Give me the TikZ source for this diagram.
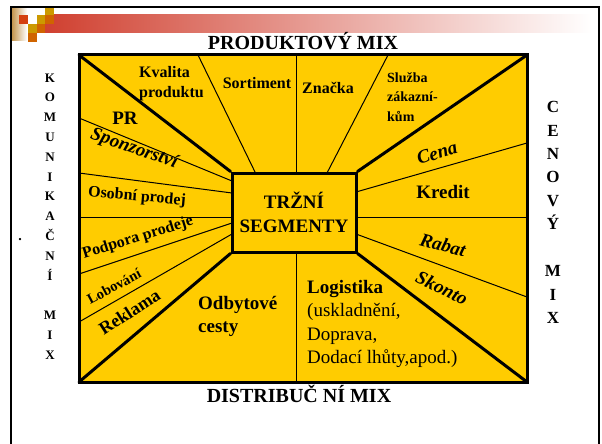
\documentclass[tikz,border=0pt]{standalone}
\usepackage{fontspec}
\setmainfont{Liberation Serif}
\definecolor{slideyellow}{RGB}{255,204,0}
\definecolor{sqred}{RGB}{212,64,16}
\definecolor{sqgold}{RGB}{204,153,0}
\definecolor{sqorange}{RGB}{208,100,0}
\definecolor{barred}{RGB}{208,64,48}
\definecolor{striptan}{RGB}{196,150,80}
\newcommand{\fsz}[2]{\fontsize{#1}{#2}\selectfont}
\begin{document}
\begin{tikzpicture}[x=1pt,y=-1pt,
  thinl/.style={line width=1pt,black},
  thickl/.style={line width=3pt,black,line cap=round},
  lab/.style={inner sep=0pt,font=\bfseries\fsz{19}{23}},
  labsm/.style={inner sep=0pt,font=\bfseries\fsz{16}{19.4}},
  labit/.style={inner sep=0pt,font=\bfseries\itshape\fsz{19}{23}},
  logl/.style={inner sep=0pt,anchor=base west,font=\fsz{19}{23}}
]
\useasboundingbox (0,0) rectangle (602,444);
\fill[white] (0,0) rectangle (602,444);
% header decoration
\shade[left color=striptan,right color=white] (12,9) rectangle (27,41);
\shade[left color=barred,right color=white] (45,15) rectangle (592,33);
\fill[sqred] (19,15) rectangle (28,24);
\fill[sqgold] (28,24) rectangle (36.5,33);
\fill[sqorange] (28,33) rectangle (36.5,42);
\fill[sqgold] (36.5,15) rectangle (45,24);
\fill[sqorange] (36.5,24) rectangle (45,33);
\fill[sqgold] (45,8) rectangle (54,15);
\fill[sqorange] (45,15) rectangle (54,24);
% outer frame
\draw[line width=2.5pt] (11,446) -- (11,7) -- (599,7) -- (599,446);

% yellow field
\coordinate (YA) at (79,55);
\coordinate (YB) at (527,55);
\coordinate (YC) at (527,382);
\coordinate (YD) at (79,382);
\fill[slideyellow] (YA) rectangle (YC);

% thin separators
\coordinate (t1a) at (198,55);   \coordinate (t1b) at (255.5,173);
\coordinate (t2a) at (296,55);   \coordinate (t2b) at (296,173);
\coordinate (t3a) at (388,55);   \coordinate (t3b) at (327,173);
\coordinate (l1a) at (79,118);   \coordinate (l1b) at (232,181);
\coordinate (l2a) at (79,173);   \coordinate (l2b) at (232,193);
\coordinate (l3a) at (79,217);   \coordinate (l3b) at (232,217);
\coordinate (l4a) at (79,274);   \coordinate (l4b) at (232,223);
\coordinate (l5a) at (79,322);   \coordinate (l5b) at (232,234);
\coordinate (r1a) at (527,143);  \coordinate (r1b) at (356,192);
\coordinate (r2a) at (527,217);  \coordinate (r2b) at (356,217);
\coordinate (r3a) at (527,297);  \coordinate (r3b) at (356,234);
\coordinate (b1a) at (296,382);  \coordinate (b1b) at (296,252);
\foreach \p in {t1,t2,t3,l1,l2,l3,l4,l5,r1,r2,r3,b1}
  \draw[thinl] (\p a) -- (\p b);

% central box
\node[draw,line width=3pt,fill=slideyellow,minimum width=124pt,minimum height=79pt,
      inner sep=0pt,align=center,font=\bfseries\fsz{19}{24}] (seg) at (294,212.5)
      {TRŽNÍ\\SEGMENTY};
\draw[thickl] (YA) -- (seg.north west);
\draw[thickl] (YB) -- (seg.north east);
\draw[thickl] (YD) -- (seg.south west);
\draw[thickl] (YC) -- (seg.south east);
\draw[line width=3pt] (YA) rectangle (YC);

% titles
\node[lab,font=\bfseries\fsz{20}{24}] (prod) at (303,41) {PRODUKTOVÝ MIX};
\node[lab,font=\bfseries\fsz{20}{24}] (dist) at (299,394) {DISTRIBUČ NÍ MIX};
\node[lab,font=\bfseries\fsz{13}{19.8},align=center] (kom) at (50,216.5)
  {K\\O\\M\\U\\N\\I\\K\\A\\Č\\N\\Í\\\mbox{}\\M\\I\\X};
\node[lab,font=\bfseries\fsz{17}{23.45},align=center] (cen) at (553,212.5)
  {C\\E\\N\\O\\V\\Ý\\\mbox{}\\M\\I\\X};
\node[lab,font=\bfseries\fsz{14}{14}] (dot) at (20,240) {.};

% top sector
\node[labsm,align=left,anchor=west] (kval) at (139,83.5) {Kvalita\\produktu};
\node[labsm] (sort) at (257,83) {Sortiment};
\node[labsm] (zn) at (328,88) {Značka};
\node[labsm,font=\bfseries\fsz{14}{19.5},align=left,anchor=west] (sluz) at (387,96.7)
  {Služba\\zákazní-\\kům};

% left sector
\node[lab] (pr) at (125,118) {PR};
\node[labit,rotate=-19] (spon) at (134,149) {Sponzorství};
\node[labsm,rotate=-5] (osob) at (137,197) {Osobní prodej};
\node[labsm,rotate=17] (podp) at (138,238) {Podpora prodeje};
\node[labsm,font=\bfseries\fsz{14.5}{18},rotate=28] (lob) at (114,286.5) {Lobování};
\node[lab,font=\bfseries\fsz{18}{22},rotate=33] (rekl) at (129.5,312) {Reklama};

% right sector
\node[labit,rotate=17] (cena) at (437,153) {Cena};
\node[lab] (kred) at (443,192) {Kredit};
\node[labit,rotate=-15] (rab) at (443,245) {Rabat};
\node[labit,rotate=-26] (skon) at (442,288) {Skonto};

% bottom sector
\node[lab,align=left,anchor=west] (odb) at (198,316.6) {Odbytové\\cesty};
\node[logl,font=\bfseries\fsz{19}{23}] (log1) at (307,293.6) {Logistika};
\node[logl] (log2) at (307,316.9) {(uskladnění,};
\node[logl] (log3) at (307,340.2) {Doprava,};
\node[logl] (log4) at (307,363.5) {Dodací lhůty,apod.)};
\end{tikzpicture}
\end{document}
